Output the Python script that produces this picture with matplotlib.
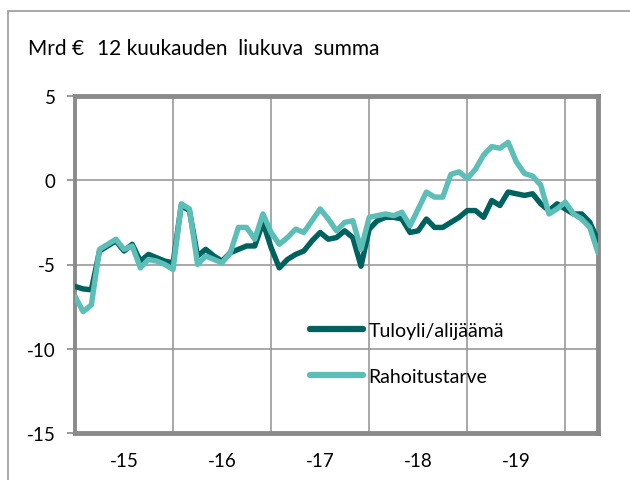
import matplotlib
matplotlib.use("Agg")
import matplotlib.pyplot as plt
import numpy as np
from matplotlib.patches import Rectangle

# kuukausittaiset arvot, tammikuu 2015 -> toukokuu 2020
tuloyli = [-6.3, -6.45, -6.5, -4.2, -3.9, -3.6, -4.2, -3.8, -4.8, -4.4, -4.6, -4.8,
           -4.9, -1.5, -1.8, -4.5, -4.1, -4.5, -4.8, -4.3, -4.1, -3.9, -3.9, -2.5,
           -4.0, -5.2, -4.7, -4.4, -4.2, -3.6, -3.1, -3.5, -3.4, -3.0, -3.4, -5.1,
           -2.9, -2.4, -2.2, -2.2, -2.3, -3.1, -3.0, -2.3, -2.8, -2.8, -2.5, -2.2,
           -1.8, -1.8, -2.2, -1.2, -1.5, -0.7, -0.8, -0.9, -0.8, -1.4, -1.8, -1.4,
           -1.7, -2.0, -2.0, -2.5, -3.6]
rahoitustarve = [-6.9, -7.8, -7.4, -4.1, -3.8, -3.5, -4.1, -3.9, -5.2, -4.7, -4.8, -5.0,
                 -5.3, -1.4, -1.7, -5.0, -4.5, -4.7, -4.9, -4.3, -2.8, -2.8, -3.5, -2.0,
                 -3.1, -3.8, -3.4, -2.9, -3.1, -2.4, -1.7, -2.3, -3.0, -2.5, -2.4, -4.1,
                 -2.2, -2.1, -2.0, -2.1, -1.9, -2.7, -1.7, -0.7, -1.0, -1.0, 0.35, 0.5,
                 0.1, 0.65, 1.5, 2.0, 1.9, 2.25, 1.1, 0.4, 0.25, -0.3, -2.0, -1.7,
                 -1.3, -2.0, -2.3, -2.8, -4.3]
vuodet = ["-15", "-16", "-17", "-18", "-19"]
y_ticks = [-15, -10, -5, 0, 5]

dark = "#00625f"
light = "#5cbfb7"
grey = "#8a8a8a"

plt.rcParams["font.family"] = ["Lato", "DejaVu Sans"]

fig = plt.figure(figsize=(6.3, 4.81), dpi=100)
ax = fig.add_axes([75 / 630, 47 / 481, 523 / 630, 337 / 481])

# kuvan reunaviiva
fig.patches.append(Rectangle((8 / 630, -0.1), 1.2, (481 - 12) / 481 + 0.1,
                             transform=fig.transFigure, fill=False,
                             edgecolor="#9a9a9a", lw=1.2))

x = np.arange(len(tuloyli))
ax.plot(x, tuloyli, color=dark, lw=3.9, label="Tuloyli/alijäämä",
        solid_joinstyle="round", solid_capstyle="round", zorder=3)
ax.plot(x, rahoitustarve, color=light, lw=3.9, label="Rahoitustarve",
        solid_joinstyle="round", solid_capstyle="round", zorder=3)

ax.set_xlim(0, len(x) - 1)
ax.set_ylim(-15, 5)

# pystyviivat vuodenvaihteissa, nimet vuoden keskellä
ax.set_xticks([12, 24, 36, 48, 60])
ax.set_xticklabels([])
ax.set_xticks([6, 18, 30, 42, 54], minor=True)
ax.set_xticklabels(vuodet, minor=True, fontsize=13.5)
ax.tick_params(axis="x", which="both", length=0, pad=14)

ax.set_yticks(y_ticks)
ax.set_yticklabels([str(v) for v in y_ticks], fontsize=13.5)
ax.tick_params(axis="y", length=6, width=1.2, color=grey, pad=8)

ax.grid(True, which="major", color="#999999", lw=1.2, zorder=1)

for side in ["top", "right", "bottom"]:
    ax.spines[side].set_color(grey)
    ax.spines[side].set_linewidth(3.5)
ax.spines["left"].set_color(grey)
ax.spines["left"].set_linewidth(2.8)

fig.text(28 / 630, 1 - 49 / 481, "Mrd €", fontsize=15, va="center", ha="left")
fig.text(97 / 630, 1 - 49 / 481, "12 kuukauden  liukuva  summa",
         fontsize=15, va="center", ha="left")

leg = ax.legend(loc="upper left", bbox_to_anchor=(310 / 630, 1 - 323 / 481),
                bbox_transform=fig.transFigure, frameon=False, fontsize=14,
                handlelength=2.7, handletextpad=0.3, labelspacing=1.5,
                borderpad=0, borderaxespad=0)
for line in leg.get_lines():
    line.set_linewidth(4.5)

fig.savefig("out.png", dpi=100)
